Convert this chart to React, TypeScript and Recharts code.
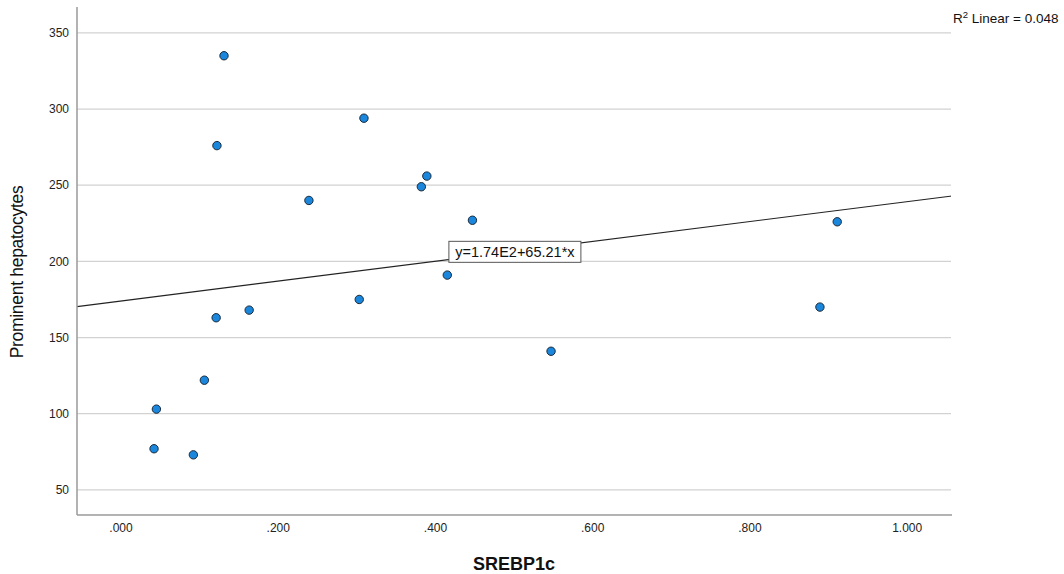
import React from "react";
import {
  ScatterChart, Scatter, XAxis, YAxis, ReferenceLine, ReferenceDot,
} from "recharts";

// SREBP1c vs prominent hepatocytes
const srebp1c = [
  0.131, 0.122, 0.309, 0.239, 0.382, 0.389, 0.447, 0.415, 0.303,
  0.163, 0.121, 0.547, 0.106, 0.045, 0.042, 0.092, 0.889, 0.911,
];
const hepatocytes = [
  335, 276, 294, 240, 249, 256, 227, 191, 175,
  168, 163, 141, 122, 103, 77, 73, 170, 226,
];

const xTicks = [0, 0.2, 0.4, 0.6, 0.8, 1.0];
const yTicks = [50, 100, 150, 200, 250, 300, 350];

const xDomain: [number, number] = [-0.056, 1.057];
const yDomain: [number, number] = [33.5, 367];

// fit line y = 1.74E2 + 65.21*x
const intercept = 174;
const slope = 65.21;
const fitLabel = "y=1.74E2+65.21*x";
const fitLabelAt = { x: 0.501, y: 206.6 };

const points = srebp1c.map((x, i) => ({ x, y: hepatocytes[i] }));

const FONT = "'Liberation Sans', Arial, sans-serif";

function fmtX(v: number): string {
  const s = v.toFixed(3);
  return s.startsWith("0") ? s.slice(1) : s;
}

function EquationBox(props: any) {
  const { cx, cy } = props;
  return (
    <g>
      <rect x={cx - 66} y={cy - 10} width={132} height={21} fill="#fff" stroke="#555" strokeWidth={1} />
      <text x={cx} y={cy + 5.5} textAnchor="middle" fontFamily={FONT} fontSize={14.5} fill="#111">
        {fitLabel}
      </text>
    </g>
  );
}

// plain white strips that hide a stray frame on the top and right of the plot
const mask: React.CSSProperties = { position: "absolute", background: "#fff", pointerEvents: "none" };

export default function App() {
  return (
    <div style={{ position: "absolute", left: 0, top: 0, width: 1064, height: 574, background: "#fff" }}>
      <ScatterChart width={1064} height={574} margin={{ top: 7, right: 112, bottom: 0, left: 0 }}>
        {/* horizontal grid only, at the y ticks */}
        {yTicks.map((t) => (
          <ReferenceLine key={t} y={t} stroke="#d2d2d2" strokeWidth={1.3} />
        ))}

        <XAxis
          type="number"
          dataKey="x"
          domain={xDomain}
          ticks={xTicks}
          tickFormatter={fmtX}
          allowDataOverflow
          height={59}
          axisLine={{ stroke: "#9a9a9a", strokeWidth: 1.5 }}
          tickLine={false}
          tick={{ fill: "#222", fontSize: 12, fontFamily: FONT }}
          label={{
            content: () => (
              <text x={514} y={570} textAnchor="middle" fontFamily={FONT} fontSize={18} fontWeight="bold" fill="#111">
                SREBP1c
              </text>
            ),
          }}
        />

        <YAxis
          type="number"
          dataKey="y"
          domain={yDomain}
          ticks={yTicks}
          allowDataOverflow
          width={77}
          axisLine={{ stroke: "#9a9a9a", strokeWidth: 1.5 }}
          tickLine={false}
          tick={{ fill: "#222", fontSize: 12, fontFamily: FONT }}
        />

        <ReferenceLine
          segment={[
            { x: xDomain[0], y: intercept + slope * xDomain[0] },
            { x: xDomain[1], y: intercept + slope * xDomain[1] },
          ]}
          stroke="#222"
          strokeWidth={1.2}
        />

        <Scatter
          data={points}
          fill="#1a86dc"
          shape={(p: any) => <circle cx={p.cx} cy={p.cy} r={4.2} fill="#1a86dc" stroke="#1b2a3a" strokeWidth={1} />}
          isAnimationActive={false}
        />

        <ReferenceDot x={fitLabelAt.x} y={fitLabelAt.y} r={0} shape={EquationBox} />
      </ScatterChart>

      <div style={{ ...mask, left: 78, top: 5, width: 876, height: 3.5 }} />
      <div style={{ ...mask, left: 951.2, top: 5, width: 3, height: 508 }} />

      <div
        style={{
          position: "absolute",
          left: 18,
          top: 272,
          transform: "translate(-50%, -50%) rotate(-90deg)",
          fontFamily: FONT,
          fontSize: 17.5,
          letterSpacing: -0.3,
          color: "#111",
          whiteSpace: "nowrap",
          lineHeight: 1,
        }}
      >
        Prominent hepatocytes
      </div>

      <div
        style={{
          position: "absolute",
          left: 953,
          top: 9,
          fontFamily: FONT,
          fontSize: 13.5,
          color: "#111",
          whiteSpace: "nowrap",
        }}
      >
        R<sup style={{ fontSize: 9.5, verticalAlign: 5 }}>2</sup> Linear = 0.048
      </div>
    </div>
  );
}
